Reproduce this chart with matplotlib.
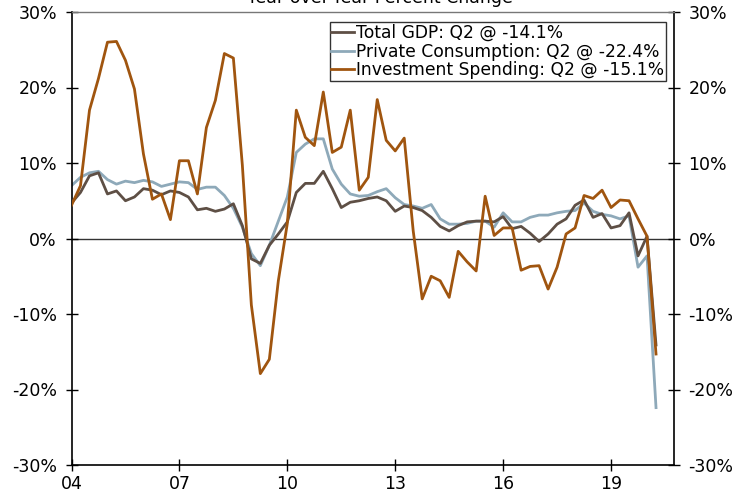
import matplotlib.pyplot as plt
import numpy as np

# quarterly, 2004 Q1 .. 2020 Q2, year-over-year % change
years = np.arange(2004, 2021)
gdp = [4.7, 6.1, 8.3, 8.7, 5.9, 6.3, 5.0, 5.5, 6.6, 6.4, 5.8, 6.3,
       6.1, 5.5, 3.8, 4.0, 3.6, 3.9, 4.6, 1.7, -2.7, -3.3, -0.9, 0.6,
       2.2, 6.1, 7.3, 7.3, 8.9, 6.6, 4.1, 4.8, 5.0, 5.3, 5.5, 5.0,
       3.6, 4.3, 4.1, 3.7, 2.8, 1.6, 1.0, 1.7, 2.2, 2.3, 2.3, 2.2,
       2.9, 1.3, 1.6, 0.7, -0.4, 0.6, 1.9, 2.6, 4.4, 5.1, 2.8, 3.3,
       1.4, 1.7, 3.4, -2.3, 0.3, -14.1]
consumption = [7.0, 8.1, 8.7, 8.9, 7.8, 7.2, 7.6, 7.4, 7.7, 7.5, 6.9, 7.2,
               7.5, 7.4, 6.5, 6.8, 6.8, 5.7, 4.0, 1.5, -2.0, -3.6, -0.9, 2.3,
               5.5, 11.4, 12.5, 13.2, 13.2, 9.2, 7.2, 5.9, 5.6, 5.7, 6.2, 6.6,
               5.4, 4.5, 4.3, 4.0, 4.5, 2.6, 1.9, 1.9, 2.0, 2.3, 2.3, 1.5,
               3.4, 2.2, 2.2, 2.8, 3.1, 3.1, 3.4, 3.6, 3.7, 4.7, 3.6, 3.2,
               3.0, 2.6, 3.0, -3.8, -2.3, -22.4]
investment = [4.4, 7.0, 17.0, 21.2, 26.0, 26.1, 23.6, 19.8, 11.2, 5.2, 5.9, 2.5,
              10.3, 10.3, 5.9, 14.7, 18.3, 24.5, 23.9, 9.7, -8.8, -17.9, -16.0, -5.6,
              2.0, 17.0, 13.4, 12.3, 19.4, 11.4, 12.1, 17.0, 6.4, 8.1, 18.4, 13.0,
              11.6, 13.3, 1.0, -8.0, -5.0, -5.6, -7.8, -1.7, -3.1, -4.3, 5.6, 0.4,
              1.4, 1.4, -4.2, -3.7, -3.6, -6.7, -3.8, 0.6, 1.4, 5.7, 5.3, 6.4,
              4.1, 5.1, 5.0, 2.6, 0.3, -15.3]

t = 2004 + np.arange(len(gdp)) / 4.0

plt.rcParams['font.family'] = 'DejaVu Sans'
fig = plt.figure(figsize=(7.48, 4.95), dpi=100)
ax = fig.add_axes([71.5/748, 1 - 465/495, (674 - 71.5)/748, (465 - 12)/495])

ax.axhline(0, color='#333333', lw=1.0, zorder=1)
ax.plot(t, gdp, color='#5e4f45', lw=2, label='Total GDP: Q2 @ -14.1%', zorder=3)
ax.plot(t, consumption, color='#8ea9b9', lw=2, label='Private Consumption: Q2 @ -22.4%', zorder=2)
ax.plot(t, investment, color='#a0550f', lw=2, label='Investment Spending: Q2 @ -15.1%', zorder=4)

ax.set_xlim(2004, 2020.75)
ax.set_ylim(-30, 30)
ax.set_yticks(np.arange(-30, 31, 10))
ax.set_yticklabels([f'{v}%' for v in range(-30, 31, 10)])
ax.set_xticks(years[::3])
ax.set_xticklabels([f'{y % 100:02d}' for y in years[::3]])
ax.tick_params(direction='inout', length=9, width=1, labelsize=12.5,
               right=True, labelright=True, pad=3)
ax.tick_params(axis='y', pad=6)
for s in ['left', 'right', 'bottom']:
    ax.spines[s].set_linewidth(1.2)
ax.spines['top'].set_color('#777777')
ax.spines['top'].set_linewidth(1)

leg = ax.legend(loc='upper right', bbox_to_anchor=(666/748, 1 - 22/495),
                bbox_transform=fig.transFigure, fontsize=12.3, frameon=True,
                fancybox=False, handlelength=1.3, handletextpad=0.15,
                borderpad=0.1, labelspacing=0.05, borderaxespad=0)
leg.get_frame().set_edgecolor('black')
leg.get_frame().set_linewidth(1)

fig.text(380/748, 1 - 3/495, 'Year-over-Year Percent Change', ha='center',
         va='baseline', fontsize=12.5)

fig.savefig('out.png', dpi=100)
